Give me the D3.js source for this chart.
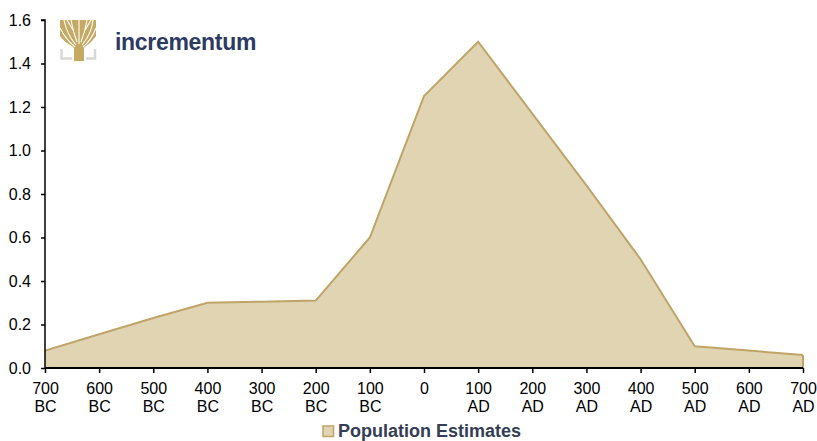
<!DOCTYPE html>
<html>
<head>
<meta charset="utf-8">
<script src="https://cdn.jsdelivr.net/npm/d3@7"></script>
<style>
body { margin: 0; background: #fff; }
svg text { font-family: "Liberation Sans", Arial, sans-serif; }
</style>
</head>
<body>
<div id="chart"></div>
<script>
// categories and values
const periods = ['700 BC', '600 BC', '500 BC', '400 BC', '300 BC', '200 BC', '100 BC', '0',
    '100 AD', '200 AD', '300 AD', '400 AD', '500 AD', '600 AD', '700 AD'];
const population = [0.08, 0.155, 0.23, 0.30, 0.305, 0.31, 0.60, 1.25, 1.50, 1.17, 0.84, 0.50, 0.10, 0.08, 0.06];
const yTicks = [0, 0.2, 0.4, 0.6, 0.8, 1.0, 1.2, 1.4, 1.6];
const seriesName = 'Population Estimates';

const width = 817;
const height = 441;
const margin = {top: 20, right: 14, bottom: 73, left: 45};

const svg = d3.select('#chart')
    .append('svg')
    .attr('width', width)
    .attr('height', height);

const x = d3.scalePoint()
    .domain(periods)
    .range([margin.left, width - margin.right]);

const y = d3.scaleLinear()
    .domain([0, 1.6])
    .range([height - margin.bottom, margin.top]);

const data = periods.map((p, i) => ({period: p, value: population[i]}));

const area = d3.area()
    .x(d => x(d.period))
    .y0(y(0))
    .y1(d => y(d.value));

const line = d3.line()
    .x(d => x(d.period))
    .y(d => y(d.value));

svg.append('path')
    .datum(data)
    .attr('d', area)
    .style('fill', '#e0d4b2');

svg.append('path')
    .datum(data)
    .attr('d', line)
    .style('fill', 'none')
    .style('stroke', '#bfa468')
    .style('stroke-width', 2);

// right edge of area
svg.append('line')
    .attr('x1', x(periods[periods.length - 1]))
    .attr('x2', x(periods[periods.length - 1]))
    .attr('y1', y(population[population.length - 1]))
    .attr('y2', y(0))
    .style('stroke', '#bfa468')
    .style('stroke-width', 2);

// y axis
const yAxis = svg.append('g')
    .attr('transform', `translate(${margin.left}, 0)`)
    .call(d3.axisLeft(y).tickValues(yTicks).tickFormat(d3.format('.1f')).tickSize(4).tickPadding(10));
yAxis.select('.domain').attr('d', `M-4,${y(1.6)}H0V${y(0)}`).style('stroke', '#000').style('stroke-width', 1.5);
yAxis.selectAll('.tick line').style('stroke', '#000').style('stroke-width', 1.5);
yAxis.selectAll('.tick text').style('font-size', '16px').style('fill', '#000');

// x axis
const xAxis = svg.append('g')
    .attr('transform', `translate(0, ${y(0)})`)
    .call(d3.axisBottom(x).tickSize(5).tickFormat(''));
xAxis.select('.domain').attr('d', `M${x(periods[0])},0H${x(periods[periods.length - 1])}`)
    .style('stroke', '#000').style('stroke-width', 2);
xAxis.selectAll('.tick line').style('stroke', '#000').style('stroke-width', 1.5);

xAxis.selectAll('.tick').each(function(d) {
    const parts = d.split(' ');
    const t = d3.select(this).append('text')
        .attr('fill', '#000')
        .style('font-size', '16px')
        .style('text-anchor', 'middle');
    parts.forEach((s, i) => {
        t.append('tspan')
            .attr('x', 0)
            .attr('y', 26 + i * 17.5)
            .text(s);
    });
});

// legend
const legend = svg.append('g').attr('transform', 'translate(323, 426)');
legend.append('rect')
    .attr('width', 10.5).attr('height', 10.5)
    .style('fill', '#e0d4b2')
    .style('stroke', '#bfa468')
    .style('stroke-width', 1.5);
legend.append('text')
    .attr('x', 15).attr('y', 11)
    .style('font-size', '18px')
    .style('font-weight', 'bold')
    .style('fill', '#333d55')
    .text(seriesName);

// logo: tree icon
const gold = '#c6a962';
const logo = svg.append('g').attr('transform', 'translate(60, 20)');
logo.append('path')
    .attr('d', 'M0,0 L36,0 L36,16 C32,22 27,25 24,28 L24,41 L14,41 L14,28 C11,25 4,22 0,16 Z')
    .style('fill', gold);
// white gaps between the branches
const gaps = [
    'M19,24 L19,0', 'M17,22 C14,14 12,6 11,0', 'M21,22 C24,14 26,6 27,0',
    'M16,25 C10,18 6,10 4,0', 'M22,25 C28,18 32,10 33,0',
    'M15,27 C9,22 4,16 0,8', 'M23,27 C29,22 33,16 36,8',
    'M13,10 L7,0', 'M25,10 L31,0'
];
gaps.forEach(g => {
    logo.append('path').attr('d', g)
        .style('fill', 'none').style('stroke', '#fff').style('stroke-width', 1.1);
});
logo.append('path')
    .attr('d', 'M1.5,29 L1.5,38.5 L12,38.5 M26,38.5 L35,38.5 L35,29')
    .style('fill', 'none').style('stroke', '#d8d8d8').style('stroke-width', 2.5);

svg.append('text')
    .attr('x', 115).attr('y', 50)
    .style('font-size', '23px')
    .style('font-weight', 'bold')
    .style('letter-spacing', '-0.3px')
    .style('fill', '#2d3a64')
    .text('incrementum');
</script>
</body>
</html>
